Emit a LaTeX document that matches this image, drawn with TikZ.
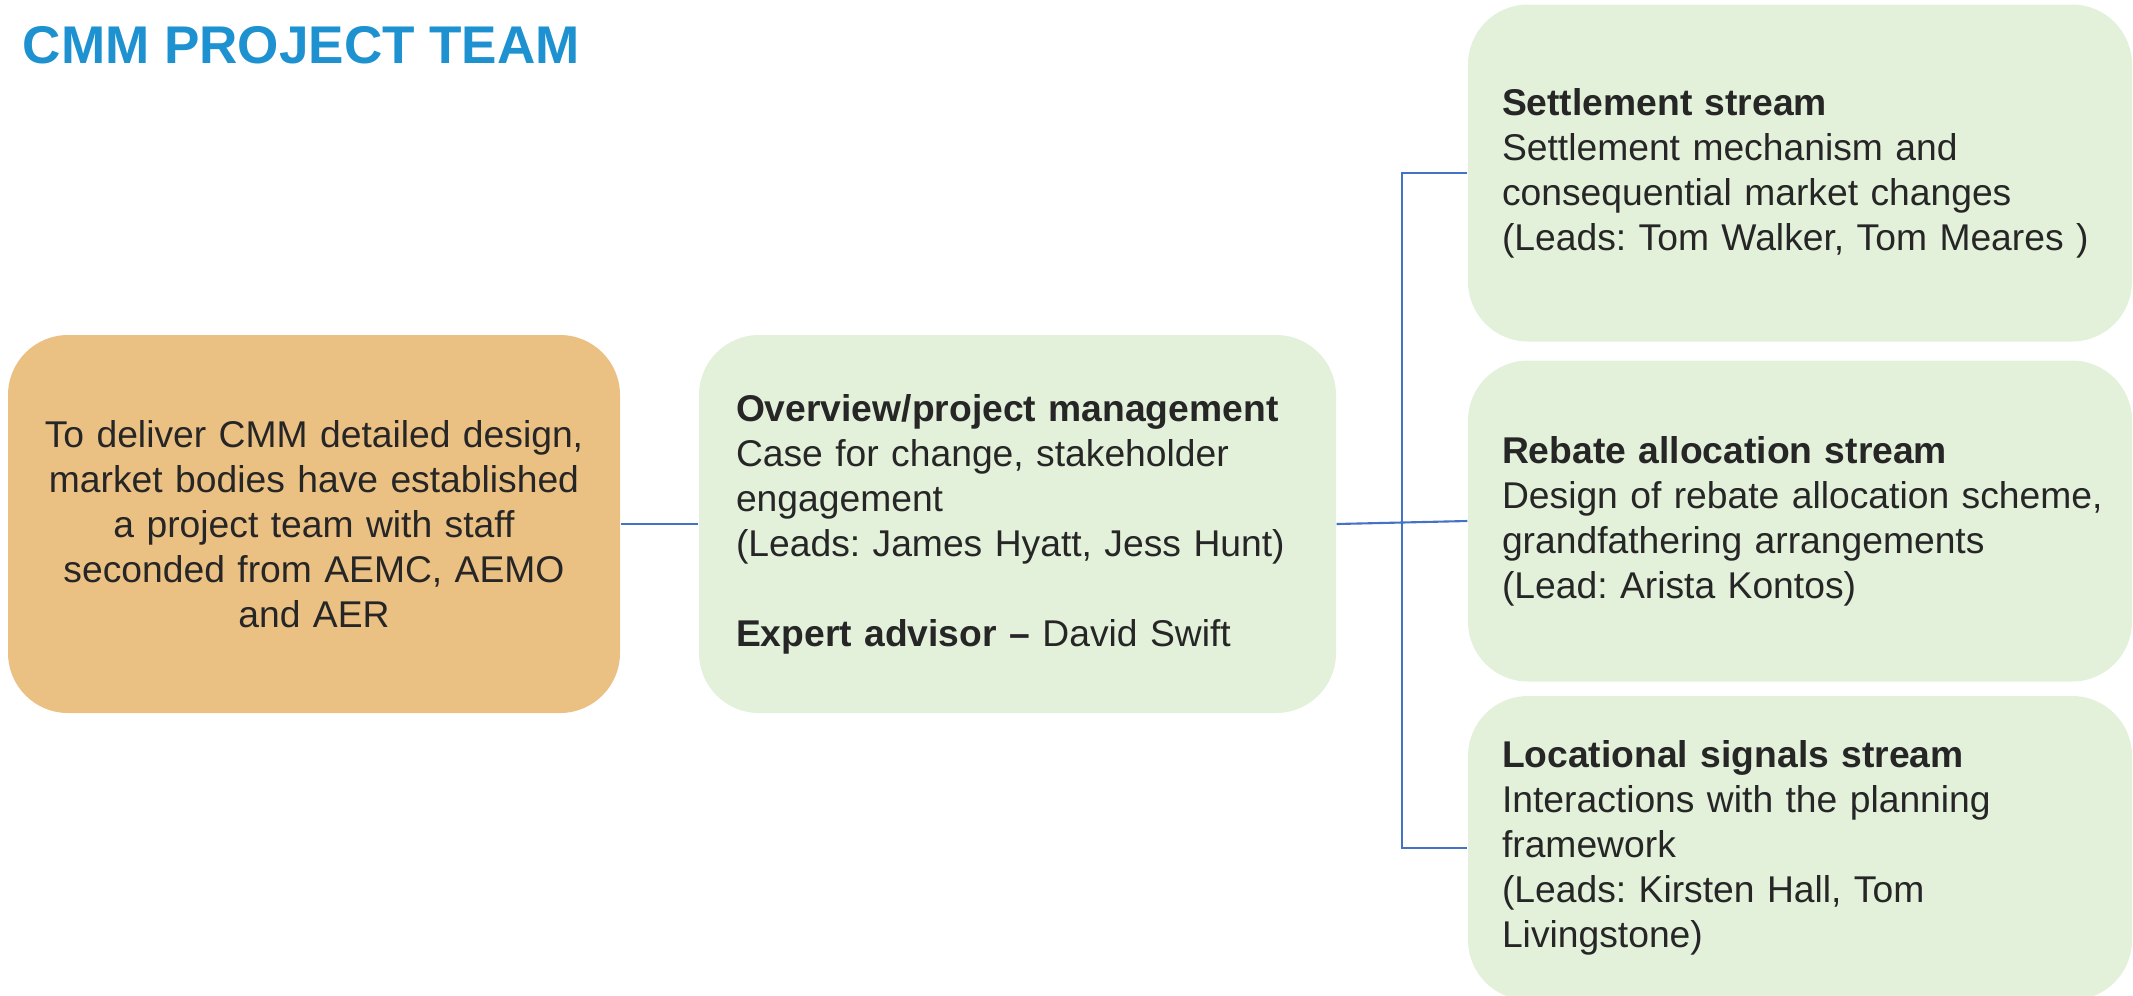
\documentclass[tikz,border=0pt]{standalone}
\usepackage{fontspec}
\setmainfont{Liberation Sans}
\usetikzlibrary{calc,positioning}
\definecolor{titleblue}{RGB}{30,146,208}
\definecolor{boxorange}{RGB}{235,192,131}
\definecolor{boxgreen}{RGB}{227,240,218}
\definecolor{linkblue}{RGB}{68,114,196}
\definecolor{textgrey}{RGB}{38,38,38}

\begin{document}
\frenchspacing
\begin{tikzpicture}[font=\fontsize{10.6}{12.8}\selectfont,text=textgrey,
  box/.style={rounded corners=0.6cm,inner ysep=0pt},
  midbox/.style={box,fill=boxgreen,inner xsep=0.37cm,text width=5.63cm,align=left,minimum height=3.78cm},
  streambox/.style={box,fill=boxgreen,inner xsep=0.34cm,text width=5.96cm,align=left},
  link/.style={draw=linkblue,line width=0.6pt}]
  \useasboundingbox (0,0) rectangle (21.33,-9.95);
  % nadpis
  \node[anchor=base west,inner sep=0pt,text=titleblue,
        font=\fontsize{15.1}{18}\selectfont\bfseries] (title) at (0.22,-0.63) {CMM PROJECT TEAM};
  % vlevo cil, uprostred rizeni projektu
  \node[box,fill=boxorange,inner xsep=0.2cm,text width=5.72cm,align=center,minimum height=3.78cm]
    (goal) at (3.14,-5.24) {\mbox{To deliver CMM detailed design,}\\ \mbox{market bodies have established}\\
      a project team with staff\\ seconded from AEMC, AEMO\\ and AER};
  \node[midbox] (overview) at (10.175,-5.24) {\mbox{\textbf{Overview/project management}}\\
      Case for change, stakeholder\\ engagement\\ \mbox{(Leads: James Hyatt, Jess Hunt)}\\[12.8pt]
      \textbf{Expert advisor --} David Swift};
  % tri proudy vpravo
  \node[streambox,minimum height=3.37cm] (settle) at (18.00,-1.73) {\textbf{Settlement stream}\\
      Settlement mechanism and\\ consequential market changes\\ \mbox{(Leads: Tom Walker, Tom Meares )}};
  \node[streambox,minimum height=3.21cm] (rebate) at (18.00,-5.21) {\textbf{Rebate allocation stream}\\
      \mbox{Design of rebate allocation scheme,}\\ grandfathering arrangements\\ (Lead: Arista Kontos)};
  \node[streambox,minimum height=3.04cm] (locsig) at (18.00,-8.48) {\textbf{Locational signals stream}\\
      Interactions with the planning\\ framework\\ (Leads: Kirsten Hall, Tom\\ Livingstone)};
  % spojnice
  \coordinate (split) at ($(overview.east)!0.5!(rebate.west)$);
  \draw[link] (goal.east) -- (overview.west);
  \draw[link] (overview.east) -- (split) -- (rebate.west);
  \draw[link] (settle.west) -| (split) |- (locsig.west);
\end{tikzpicture}
\end{document}
